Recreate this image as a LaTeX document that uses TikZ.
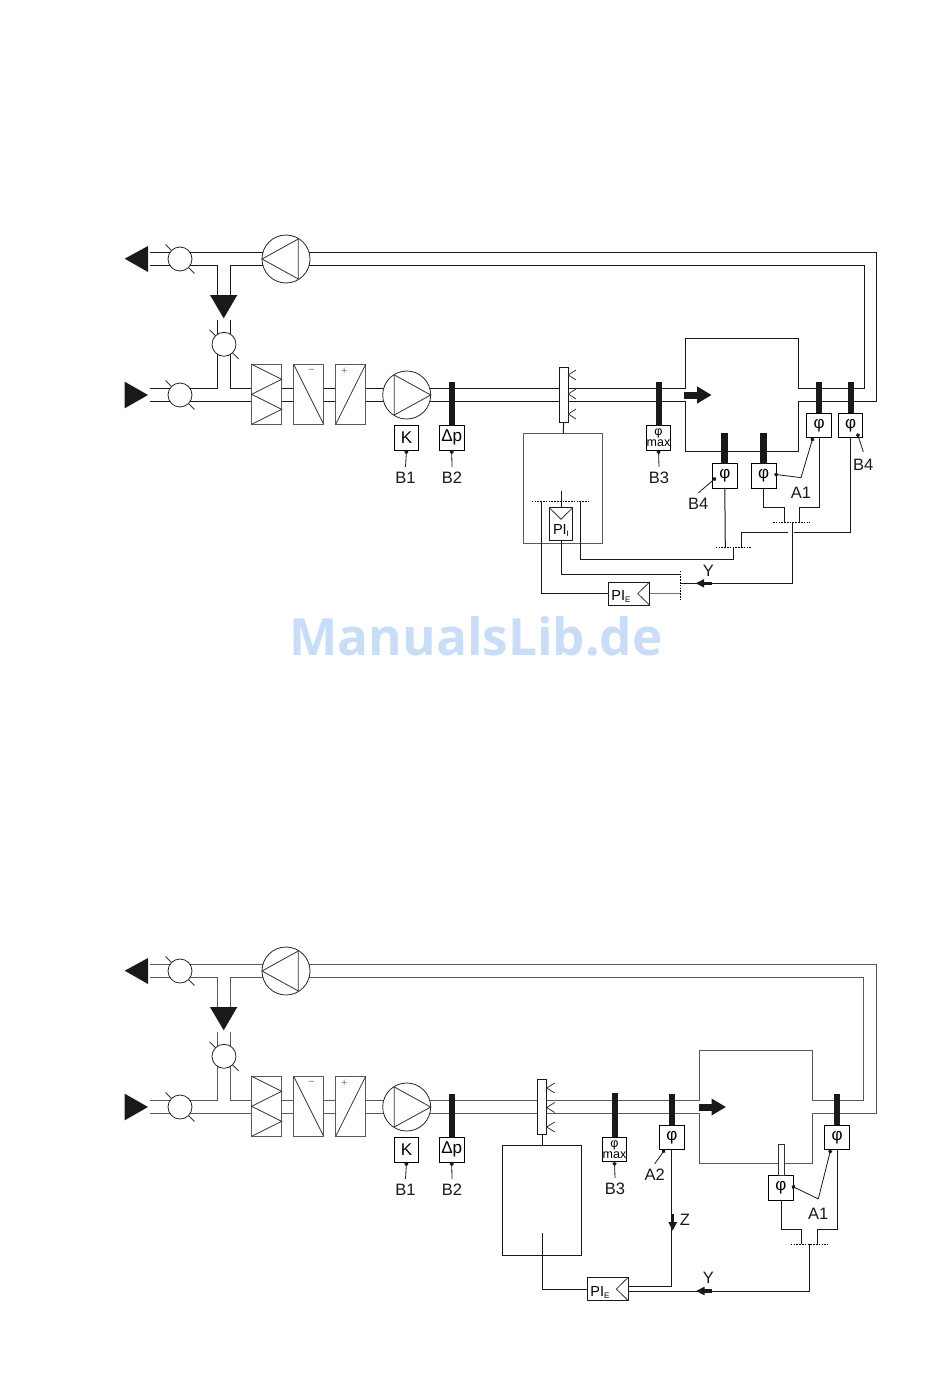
\documentclass[tikz,border=0pt]{standalone}
\usepackage{fontspec}
\setmainfont{Liberation Sans}
\newfontfamily\wmfont{Open Sans}
\usetikzlibrary{arrows.meta}
\pgfdeclarelayer{bg}
\pgfsetlayers{bg,main}
\newcommand{\smallsub}[1]{\raisebox{-2pt}{\fontsize{8}{8}\selectfont #1}}
\tikzset{
  pipe/.style={line width=1pt,draw=black!90},
  pipeg/.style={line width=1pt,draw=black!65},
  wire/.style={line width=1pt,draw=black!90},
  fine/.style={line width=0.8pt,draw=black!80},
  bus/.style={line width=0.8pt,draw=black,dash pattern=on 1.6pt off 1.2pt},
  damper/.style={circle,draw=black!85,fill=white,line width=0.8pt,minimum size=24pt,inner sep=0pt,outer sep=0pt},
  fan/.style={circle,draw=black!85,fill=white,line width=0.8pt,minimum size=48pt,inner sep=0pt,outer sep=0pt},
  unit/.style={rectangle,draw=black!65,fill=white,line width=0.9pt,minimum width=30pt,minimum height=60pt,inner sep=0pt,outer sep=0pt},
  sensor/.style={rectangle,draw=black,fill=white,line width=0.9pt,minimum width=24.5pt,minimum height=24.5pt,inner sep=0pt,outer sep=0pt,font=\fontsize{17}{17}\selectfont},
  maxbox/.style={sensor,align=center,font=\fontsize{12.5}{10.5}\selectfont},
  spray/.style={rectangle,draw=black!90,fill=white,line width=0.9pt,minimum width=9.3pt,minimum height=55pt,inner sep=0pt,outer sep=0pt},
  ctrl/.style={rectangle,draw=black!90,line width=0.9pt,inner sep=0pt,outer sep=0pt},
  lbl/.style={font=\fontsize{16.5}{17}\selectfont,inner sep=3pt,outer sep=2.4pt,text=black!90},
  lead/.style={{Circle[length=4pt]}-,line width=0.8pt,draw=black!90},
  stem/.style={line width=6pt,draw=black!90},
  flowarrow/.style={-{Triangle[length=8.5pt,width=8pt]},line width=3.5pt,draw=black!90},
  bigflow/.style={-{Triangle[length=14.5pt,width=16pt]},line width=7pt,draw=black!90},
  solid arrow/.style={fill=black!90}
}
\begin{document}
\begin{tikzpicture}[x=1pt,y=-1pt]
  \useasboundingbox (0,0) rectangle (950,1378);

  % the plant to the left of the spray bar is the same in both drawings
  \foreach \d/\p/\q in {0/a/pipe,712/b/pipeg}{
  \begin{scope}[yshift=-\d pt]
    \node[damper] (\p d1) at (180,259) {};
    \node[damper] (\p d2) at (224,344.3) {};
    \node[damper] (\p d3) at (180,395) {};
    \node[fan] (\p f1) at (286,259) {};
    \node[fan] (\p f2) at (406.7,395) {};
    \node[unit] (\p u1) at (266.7,394.3) {};
    \node[unit] (\p u2) at (308.7,394.3) {};
    \node[unit] (\p u3) at (350.7,394.3) {};
    \node[sensor] (\p k) at (406.5,437.8) {K};
    \node[sensor] (\p dp) at (451.7,437.8) {Δp};
    \node[lbl] (\p b1) at (405.5,478) {B1};
    \node[lbl] (\p b2) at (452,478) {B2};

    \begin{pgfonlayer}{bg}
      \draw[\q] (150,252.3) -- ([yshift=6.7pt]\p f1.center);
      \draw[\q] (150,265.3) -- (217.3,265.3) -- (217.3,295);
      \draw[\q] (230.3,295) -- (230.3,265.3) -- ([yshift=-6.3pt]\p f1.center);
      \draw[\q] (217.3,320) -- (217.3,388.3) -- (150,388.3);
      \draw[\q] (230.3,320) -- (230.3,388.3) -- ([yshift=6.7pt]\p f2.center);
      \draw[\q] (150,401) -- ([yshift=-6pt]\p f2.center);
    \end{pgfonlayer}

    \fill[solid arrow] (124.7,258.7) -- (148,246) -- (148,272) -- cycle;
    \fill[solid arrow] (210,295) -- (237.3,295) -- (223.7,318.3) -- cycle;
    \fill[solid arrow] (124.7,381.7) -- (148,395) -- (124.7,408.3) -- cycle;

    \foreach \n in {d1,d2,d3}
      \draw[fine] (\p\n.135) -- ++(-6,-6) (\p\n.-45) -- ++(6,6);

    \draw[fine] (\p f1.west) -- (298.3,239) -- (298.3,279) -- cycle;
    \draw[fine] (\p f2.east) -- (394.3,375) -- (394.3,415) -- cycle;

    \draw[fine] (\p u1.north west) -- ([yshift=15pt]\p u1.east) -- (\p u1.west) -- ([yshift=-15pt]\p u1.east) -- (\p u1.south west);
    \draw[fine] (\p u2.north west) -- (\p u2.south east);
    \draw[fine] (\p u3.south west) -- (\p u3.north east);
    \node[inner sep=0pt,text=black!50,font=\fontsize{11}{11}\selectfont] (\p minus) at (311.7,371.7) {−};
    \node[inner sep=0pt,text=black!50,font=\fontsize{11}{11}\selectfont] (\p plus) at (344.3,371.7) {+};

    \draw[stem] (\p dp.north) -- ++(0,-44);
    \draw[lead] (\p k.south) -- (\p b1.north);
    \draw[lead] (\p dp.south) -- (\p b2.north);
  \end{scope}}

  % upper drawing
  \node[spray] (s1) at (563.6,394.8) {};
  \node[rectangle,draw=black!65,line width=1pt,minimum width=78.7pt,minimum height=110pt,inner sep=0pt,outer sep=0pt] (w1) at (563.3,488.7) {};
  \node[maxbox] (m1) at (658.5,437.8) {φ\\max};
  \node[lbl] (b3) at (659,478) {B3};
  \node[sensor] (p1) at (724.8,475.8) {φ};
  \node[sensor] (p2) at (763.7,475.8) {φ};
  \node[sensor] (p3) at (819,425.3) {φ};
  \node[sensor] (p4) at (850.5,425.3) {φ};
  \node[lbl] (b4l) at (698.3,504) {B4};
  \node[lbl] (b4r) at (863.3,465) {B4};
  \node[lbl] (a1) at (801,492.7) {A1};
  \node[lbl] (y1) at (708.3,571) {Y};
  \node[ctrl,minimum width=23.4pt,minimum height=32.3pt,fill=white] (pii) at (561,523.8) {};
  \node[inner sep=0pt,font=\fontsize{14.5}{14.5}\selectfont] (piit) at (561,530.5) {PI\smallsub{I}};
  \node[ctrl,minimum width=41.4pt,minimum height=23.3pt] (pie) at (629,593.6) {};
  \node[inner sep=0pt,font=\fontsize{14.5}{14.5}\selectfont] (piet) at (621,597) {PI\smallsub{E}};
  \coordinate (c1) at (792.7,522.3);
  \coordinate (c2) at (733.3,547.3);
  \coordinate (c3) at (680,574.3);

  \begin{pgfonlayer}{bg}
    \draw[pipe] ([yshift=6.7pt]af2.center) -- (685.7,388.3) -- (685.7,338.3) -- (798.7,338.3) -- (798.7,388.3) -- (864,388.3) -- (864,265.3) -- ([yshift=-6.3pt]af1.center);
    \draw[pipe] ([yshift=-6pt]af2.center) -- (685.7,401) -- (685.7,451.3) -- (798.7,451.3) -- (798.7,401) -- (876.7,401) -- (876.7,252.3) -- ([yshift=6.7pt]af1.center);
  \end{pgfonlayer}

  \foreach \y in {375,394,414}
    \draw[fine] (576,\y-5) -- (568.3,\y) -- (576,\y+5);
  \draw[wire] (s1.south) -- (w1.north);
  \draw[stem] (m1.north) -- ++(0,-44);
  \draw[stem,line width=7pt] (p1.north) -- ++(0,-31);
  \draw[stem,line width=7pt] (p2.north) -- ++(0,-31);
  \draw[stem,line width=6pt] (p3.north) -- ++(0,-31);
  \draw[stem,line width=6pt] (p4.north) -- ++(0,-31);
  \draw[bigflow] (684,395) -- (711.7,395);

  \draw[lead] (m1.south) -- (b3.north);
  \draw[lead] ([xshift=-8.8pt,yshift=-1.9pt]p1.center) -- (b4l.north);
  \draw[lead] ([xshift=-1.7pt,yshift=1.5pt]p2.east) -- ([yshift=4pt]a1.north);
  \draw[lead] ([xshift=-6pt]p3.south) -- ([yshift=4pt]a1.north);
  \draw[lead] ([xshift=6.8pt,yshift=-8pt]p4.center) -- ([yshift=2pt]b4r.north);

  \draw[wire] (pii.north) -- ++(0,-16.7);
  \draw[fine] (pii.north west) -- ([yshift=-11.6pt]pii.north) -- (pii.north east);
  \draw[bus] (531.7,501.3) -- (589.3,501.3);
  \draw[bus] (715.7,547.3) -- (751.7,547.3);
  \draw[bus] (773,522.3) -- (810,522.3);
  \draw[bus] (680,570.7) -- (680,600.7);
  \draw[wire] (541.3,501.3) |- (pie.west);
  \draw[wire] (580.7,501.3) |- (c2 |- 0,559.3) -- (c2);
  \draw[wire] (pii.south) |- (c3);
  \draw[fine] (pie.north east) -- ([xshift=-12pt]pie.east) -- (pie.south east);
  \draw[wire,black!55] (pie.east) -- (680,593.6);
  \draw[wire] (p1.south) -- (725.3,547.3);
  \draw[wire] (p2.south) -- ++(0,19) -| ([xshift=-8.7pt]c1);
  \draw[wire] (p3.south) -- ++(0,70) -| ([xshift=6.6pt]c1);
  \draw[wire] (p4.south) |- (794,532);
  \draw[wire] (788.3,532) -| ([xshift=8.4pt]c2);
  \draw[wire] (c1) |- (c3 |- 0,583.3);
  \draw[flowarrow] (712,583.3) -- (695.7,583.3);

  % lower drawing
  \node[spray] (s2) at (542,1106.8) {};
  \node[rectangle,draw=black!90,line width=1pt,minimum width=79.4pt,minimum height=110pt,inner sep=0pt,outer sep=0pt] (w2) at (542,1200.3) {};
  \node[maxbox] (m2) at (614.5,1149.5) {φ\\max};
  \node[lbl] (b5) at (615,1189.3) {B3};
  \node[sensor] (p5) at (671.8,1137.3) {φ};
  \node[sensor] (p6) at (837,1137.3) {φ};
  \node[sensor] (p7) at (781,1187.8) {φ};
  \node[lbl] (a2) at (654.7,1175) {A2};
  \node[lbl] (a3) at (818.3,1214) {A1};
  \node[lbl] (z1) at (685,1220) {Z};
  \node[lbl] (y2) at (708.3,1278.3) {Y};
  \node[ctrl,minimum width=41pt,minimum height=23.4pt] (pif) at (607.8,1289) {};
  \node[inner sep=0pt,font=\fontsize{14.5}{14.5}\selectfont] (pift) at (600,1292.5) {PI\smallsub{E}};
  \coordinate (c4) at (809.3,1244);

  \begin{pgfonlayer}{bg}
    \draw[pipeg] ([yshift=6.7pt]bf2.center) -- (699.3,1100.3) -- (699.3,1050.3) -- (812.7,1050.3) -- (812.7,1100.3) -- (863.3,1100.3) -- (863.3,977.3) -- ([yshift=-6.3pt]bf1.center);
    \draw[pipeg] ([yshift=-6pt]bf2.center) -- (699.3,1113) -- (699.3,1163.3) -- (812.7,1163.3) -- (812.7,1113) -- (876.7,1113) -- (876.7,964.3) -- ([yshift=6.7pt]bf1.center);
  \end{pgfonlayer}

  \foreach \y in {1088,1107.5,1127}
    \draw[fine] (554.7,\y-5) -- (546.7,\y) -- (554.7,\y+5);
  \draw[wire] (s2.south) -- (w2.north);
  \draw[stem] (m2.north) -- ++(0,-44);
  \draw[stem] (p5.north) -- ++(0,-31);
  \draw[stem] (p6.north) -- ++(0,-31);
  \node[rectangle,draw=black!80,fill=white,line width=0.9pt,minimum width=6.4pt,minimum height=31pt,inner sep=0pt,outer sep=0pt] (h1) at (781.5,1159.8) {};
  \draw[bigflow] (699,1107) -- (726,1107);

  \draw[lead] (m2.south) -- (b5.north);
  \draw[lead] ([xshift=-7pt]p5.south) -- (a2.north);
  \draw[lead] ([xshift=-1.5pt,yshift=1.8pt]p7.east) -- ([yshift=4pt]a3.north);
  \draw[lead] ([xshift=-6.3pt]p6.south) -- ([yshift=4pt]a3.north);

  \draw[bus] (790.7,1244) -- (827.3,1244);
  \draw[wire] (p7.south) -- ++(0,29.7) -| ([xshift=-8pt]c4);
  \draw[wire] (p6.south) -- ++(0,80.2) -| ([xshift=8pt]c4);
  \draw[wire] (542.3,1233.3) |- (pif.west);
  \draw[fine] (pif.north east) -- ([xshift=-12pt]pif.east) -- (pif.south east);
  \draw[wire] (p5.south) |- (pif.east |- 0,1286.3);
  \draw[wire] (c4) |- (pif.east |- 0,1291);
  \draw[flowarrow] (672.7,1214) -- (672.7,1230.7);
  \draw[flowarrow] (711.7,1291) -- (696,1291);

  % watermark
  \definecolor{markblue}{HTML}{C8DEF8}
  \node[inner sep=0pt,text=markblue,font=\wmfont\bfseries\fontsize{51.3}{52}\selectfont] (mark) at (476,636) {ManualsLib.de};
\end{tikzpicture}
\end{document}
